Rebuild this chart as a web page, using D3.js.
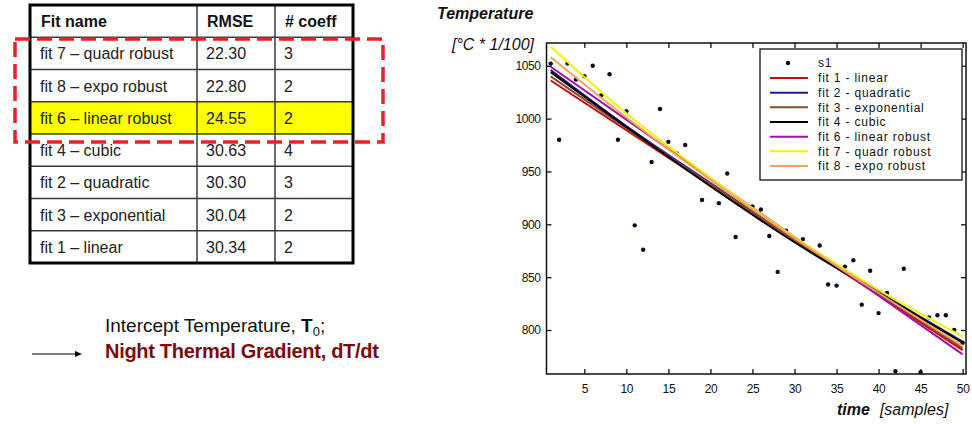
<!DOCTYPE html>
<html>
<head>
<meta charset="utf-8">
<script src="https://cdn.jsdelivr.net/npm/d3@7"></script>
<style>
  body { margin: 0; background: #fff; }
  svg { display: block; font-family: "Liberation Sans", Arial, sans-serif; }
</style>
</head>
<body>
<div id="chart"></div>
<script>
// ---- table data ----
const tableHeader = ["Fit name", "RMSE", "# coeff"];
const tableFits = ["fit 7 – quadr robust", "fit 8 – expo robust", "fit 6 – linear robust",
  "fit 4 – cubic", "fit 2 – quadratic", "fit 3 – exponential", "fit 1 – linear"];
const tableRmse = ["22.30", "22.80", "24.55", "30.63", "30.30", "30.04", "30.34"];
const tableCoeff = ["3", "2", "2", "4", "3", "2", "2"];
const highlightFit = "fit 6 – linear robust";

// ---- measured samples (s1) ----
const sampleTimes = [1, 2, 3, 4, 5, 6, 7, 8, 9, 10, 11, 12, 13, 14, 15, 16, 17, 19, 21, 22, 23,
  25, 26, 27, 28, 29, 31, 33, 34, 35, 36, 37, 38, 39, 40, 41, 42, 43, 45, 46, 47, 48, 49, 50];
const sampleTemps = [1052, 980, 1052, 1037, 1040, 1050, 1022, 1042, 980, 1007, 899, 876, 959, 1009, 978, 967, 975, 923, 920, 948, 888,
  917, 914, 889, 855, 894, 886, 880, 843, 842, 860, 866, 824, 856, 816, 835, 761, 858, 760, 812, 814, 814, 800, 788];

// ---- fitted curves, read at a few sample times ----
const fitTimes = [1, 10, 20, 30, 40, 50];
const fit1 = [1036, 989, 937, 885, 833, 781];
const fit2 = [1046, 993, 939, 886, 836, 789];
const fit3 = [1040, 991, 938, 885, 834, 783];
const fit4 = [1044, 992, 936, 883, 835, 788];
const fit6 = [1049, 999, 943.5, 888, 832.5, 777];
const fit7 = [1068, 1005, 944, 888, 838, 794];
const fit8 = [1058, 1001, 942, 887, 835, 785];
const fitNames = ["fit 1 - linear", "fit 2 - quadratic", "fit 3 - exponential", "fit 4 - cubic",
  "fit 6 - linear robust", "fit 7 - quadr robust", "fit 8 - expo robust"];
const fitColors = ["#cc0a0a", "#1e1e96", "#8b4a2b", "#000000", "#a312a3", "#f2f200", "#f3a35c"];

const xTicks = [5, 10, 15, 20, 25, 30, 35, 40, 45, 50];
const yTicks = [800, 850, 900, 950, 1000, 1050];

const width = 972, height = 424;

const svg = d3.select("#chart")
  .append("svg")
  .attr("width", width)
  .attr("height", height);

// ================= table =================
const colX = [30, 197, 275, 353];
const rowScale = d3.scaleBand()
  .domain(d3.range(tableFits.length + 1))
  .range([5, 263]);

const table = svg.append("g");
const rows = tableFits.map((f, i) => [f, tableRmse[i], tableCoeff[i]]);

// highlight row
table.selectAll(".hl")
  .data(tableFits.filter(f => f === highlightFit))
  .join("rect")
    .attr("x", colX[0])
    .attr("y", f => rowScale(tableFits.indexOf(f) + 1))
    .attr("width", colX[3] - colX[0])
    .attr("height", rowScale.bandwidth())
    .attr("fill", "#ffff00");

// inner row lines
table.selectAll(".rowline")
  .data(d3.range(1, tableFits.length + 1))
  .join("line")
    .attr("x1", colX[0]).attr("x2", colX[3])
    .attr("y1", d => rowScale(d)).attr("y2", d => rowScale(d))
    .attr("stroke", "#3a3a3a").attr("stroke-width", 1.5);

// column lines
table.selectAll(".colline")
  .data([colX[1], colX[2]])
  .join("line")
    .attr("x1", d => d).attr("x2", d => d)
    .attr("y1", 5).attr("y2", 263)
    .attr("stroke", "#3a3a3a").attr("stroke-width", 1.5);

table.append("rect")
  .attr("x", colX[0]).attr("y", 5)
  .attr("width", colX[3] - colX[0]).attr("height", 258)
  .attr("fill", "none").attr("stroke", "#000").attr("stroke-width", 3);

// header
table.selectAll(".head")
  .data(tableHeader)
  .join("text")
    .attr("x", (d, i) => colX[i] + (i === 0 ? 11 : 10))
    .attr("y", rowScale(0) + 22)
    .attr("font-size", 16)
    .attr("font-weight", "bold")
    .attr("fill", "#111")
    .text(d => d);

// body cells
rows.forEach((r, ri) => {
  table.selectAll(".cell" + ri)
    .data(r)
    .join("text")
      .attr("x", (d, i) => colX[i] + (i === 0 ? 10 : 9))
      .attr("y", rowScale(ri + 1) + 22)
      .attr("font-size", 16)
      .attr("fill", "#222")
      .text(d => d);
});

// red dashed box around robust fits
svg.append("rect")
  .attr("x", 15).attr("y", 39)
  .attr("width", 368).attr("height", 103)
  .attr("fill", "none")
  .attr("stroke", "#ee1f24")
  .attr("stroke-width", 3.5)
  .attr("stroke-dasharray", "15,7");

// notes under table
const note1 = svg.append("text")
  .attr("x", 105).attr("y", 332)
  .attr("font-size", 19)
  .attr("fill", "#111");
note1.append("tspan").text("Intercept Temperature, ");
note1.append("tspan").attr("font-weight", "bold").text("T");
note1.append("tspan").attr("font-size", 13).attr("dy", 4).text("0");
note1.append("tspan").attr("dy", -4).text(";");

svg.append("text")
  .attr("x", 105).attr("y", 358)
  .attr("font-size", 20)
  .attr("font-weight", "bold")
  .attr("fill", "#7d0a0a")
  .attr("letter-spacing", -0.3)
  .text("Night Thermal Gradient, dT/dt");

svg.append("line")
  .attr("x1", 32).attr("x2", 76)
  .attr("y1", 354).attr("y2", 354)
  .attr("stroke", "#000").attr("stroke-width", 1.2);
svg.append("path")
  .attr("d", "M82,354 L75,351 L75,357 Z")
  .attr("fill", "#000");

// ================= chart =================
const plot = { left: 546.5, right: 966, top: 43, bottom: 374 };

const xScale = d3.scaleLinear()
  .domain([0.5, 50.4])
  .range([plot.left, plot.right]);

const yScale = d3.scaleLinear()
  .domain([758.4, 1071.5])
  .range([plot.bottom, plot.top]);

const chart = svg.append("g");

// data points (drawn first, fits on top)
chart.selectAll(".pt")
  .data(sampleTimes.map((t, i) => ({ t, v: sampleTemps[i] })))
  .join("circle")
    .attr("cx", d => xScale(d.t))
    .attr("cy", d => yScale(d.v))
    .attr("r", 2.2)
    .attr("fill", "#0b0b25");

const line = d3.line()
  .x(d => xScale(d.t))
  .y(d => yScale(d.v))
  .curve(d3.curveMonotoneX);

const fits = [fit1, fit2, fit3, fit4, fit6, fit7, fit8];

chart.selectAll(".fit")
  .data(fits)
  .join("path")
    .attr("d", f => line(f.map((v, i) => ({ t: fitTimes[i], v }))))
    .attr("fill", "none")
    .attr("stroke", (d, i) => fitColors[i])
    .attr("stroke-width", 2);

// axes with inward ticks
const axisFont = g => g.selectAll("text")
  .attr("font-family", "'Liberation Sans', Arial, sans-serif")
  .attr("font-size", 12)
  .attr("letter-spacing", -0.4)
  .attr("fill", "#111");
const axisLines = g => {
  g.select(".domain").remove();
  g.selectAll(".tick line").attr("stroke", "#111").attr("stroke-width", 1.3);
};

chart.append("g")
  .attr("transform", `translate(0,${plot.bottom})`)
  .call(d3.axisBottom(xScale).tickValues(xTicks).tickSizeInner(-5).tickSizeOuter(0).tickPadding(10))
  .call(axisLines).call(axisFont);

chart.append("g")
  .attr("transform", `translate(0,${plot.top})`)
  .call(d3.axisTop(xScale).tickValues(xTicks).tickSizeInner(-5).tickSizeOuter(0).tickFormat(""))
  .call(axisLines);

chart.append("g")
  .attr("transform", `translate(${plot.left},0)`)
  .call(d3.axisLeft(yScale).tickValues(yTicks).tickSizeInner(-5).tickSizeOuter(0).tickPadding(6).tickFormat(d3.format("d")))
  .call(axisLines).call(axisFont);

chart.append("g")
  .attr("transform", `translate(${plot.right},0)`)
  .call(d3.axisRight(yScale).tickValues(yTicks).tickSizeInner(-5).tickSizeOuter(0).tickFormat(""))
  .call(axisLines);

// plot frame
chart.append("rect")
  .attr("x", plot.left).attr("y", plot.top)
  .attr("width", plot.right - plot.left)
  .attr("height", plot.bottom - plot.top)
  .attr("fill", "none")
  .attr("stroke", "#111")
  .attr("stroke-width", 1.5);

// legend
const legend = chart.append("g");
legend.append("rect")
  .attr("x", 760).attr("y", 49)
  .attr("width", 202).attr("height", 131)
  .attr("fill", "#fff")
  .attr("stroke", "#111")
  .attr("stroke-width", 1.3);

legend.append("circle")
  .attr("cx", 788).attr("cy", 63)
  .attr("r", 2.2)
  .attr("fill", "#0b0b25");
legend.append("text")
  .attr("x", 818).attr("y", 63)
  .attr("dy", "0.35em")
  .attr("font-size", 12)
  .attr("letter-spacing", 0.8)
  .attr("fill", "#111")
  .text("s1");

const legendY = d3.scalePoint()
  .domain(fitNames)
  .range([78, 166]);

legend.selectAll(".lg-line")
  .data(fitNames)
  .join("line")
    .attr("x1", 770).attr("x2", 808)
    .attr("y1", d => legendY(d)).attr("y2", d => legendY(d))
    .attr("stroke", (d, i) => fitColors[i])
    .attr("stroke-width", 2);

legend.selectAll(".lg-text")
  .data(fitNames)
  .join("text")
    .attr("x", 818)
    .attr("y", d => legendY(d))
    .attr("dy", "0.35em")
    .attr("font-size", 12)
    .attr("letter-spacing", 0.8)
    .attr("fill", "#111")
    .text(d => d);

// axis titles
const yTitle = svg.append("g");
yTitle.append("text")
  .attr("x", 437).attr("y", 19)
  .attr("font-size", 16)
  .attr("font-weight", "bold")
  .attr("font-style", "italic")
  .attr("fill", "#111")
  .text("Temperature");
yTitle.append("text")
  .attr("x", 534).attr("y", 50)
  .attr("text-anchor", "end")
  .attr("font-size", 16)
  .attr("font-style", "italic")
  .attr("fill", "#111")
  .text("[°C * 1/100]");

const xTitle = svg.append("text")
  .attr("x", 837).attr("y", 415)
  .attr("font-size", 16)
  .attr("font-style", "italic")
  .attr("fill", "#111");
xTitle.append("tspan").attr("font-weight", "bold").text("time");
xTitle.append("tspan").attr("dx", 10).text("[samples]");
</script>
</body>
</html>
